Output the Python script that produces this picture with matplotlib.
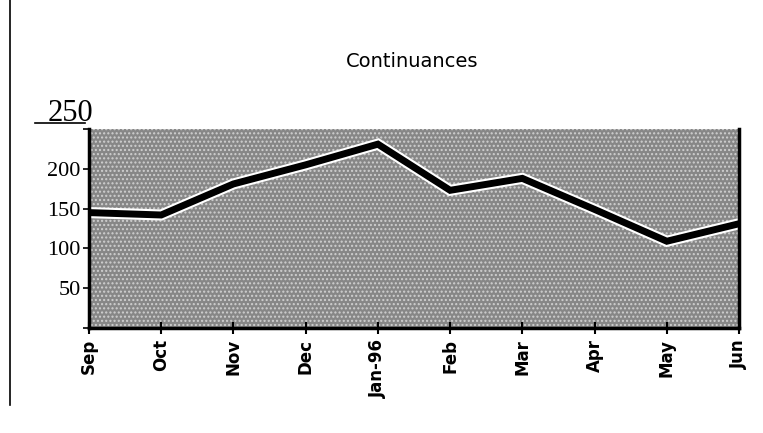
import matplotlib.pyplot as plt
from matplotlib.lines import Line2D

months = ["Sep", "Oct", "Nov", "Dec", "Jan-96", "Feb", "Mar", "Apr", "May", "Jun"]
continuances = [145, 142, 181, 205, 231, 173, 188, 149, 109, 131]
y_ticks = [0, 50, 100, 150, 200, 250]
y_labels = ["", "50", "100", "150", "200", ""]

fig = plt.figure(figsize=(7.63, 4.33), dpi=100)
ax = fig.add_axes([0.1166, 0.2425, 0.852, 0.4595])

# gray speckled plot area of the scan
ax.set_facecolor("#878787")
ax.fill_between(range(len(months)), 0, 250, facecolor="none", edgecolor="#d0d0d0",
                hatch="....", linewidth=0)

x = list(range(len(months)))
ax.plot(x, continuances, color="white", lw=8, solid_joinstyle="miter")
ax.plot(x, continuances, color="black", lw=5, solid_joinstyle="miter")

ax.set_xlim(0, len(months) - 1)
ax.set_ylim(0, 250)
ax.set_xticks(x)
ax.set_xticklabels(months, rotation=90, fontsize=12, fontweight="bold",
                   family="DejaVu Sans")
ax.set_yticks(y_ticks)
ax.set_yticklabels(y_labels, fontsize=16, family="Liberation Serif")
ax.tick_params(axis="x", direction="inout", length=8, width=1.5, pad=4)
ax.tick_params(axis="y", direction="out", length=4, width=1.2, pad=2)

for s in ["left", "bottom", "right"]:
    ax.spines[s].set_linewidth(2.5)
ax.spines["top"].set_visible(False)

# underlined 250 label above the axis
fig.text(0.122, 0.72, "250", ha="right", va="baseline",
         fontsize=22, family="Liberation Serif")
fig.add_artist(Line2D([0.046, 0.112], [0.716, 0.716], color="black", lw=1.2))

fig.text(0.54, 0.857, "Continuances", ha="center", va="center", fontsize=14)

# page edge line from the scan
fig.add_artist(Line2D([0.013, 0.013], [0.065, 1.0], color="black", lw=1.2))

fig.savefig("out.png", dpi=100)
